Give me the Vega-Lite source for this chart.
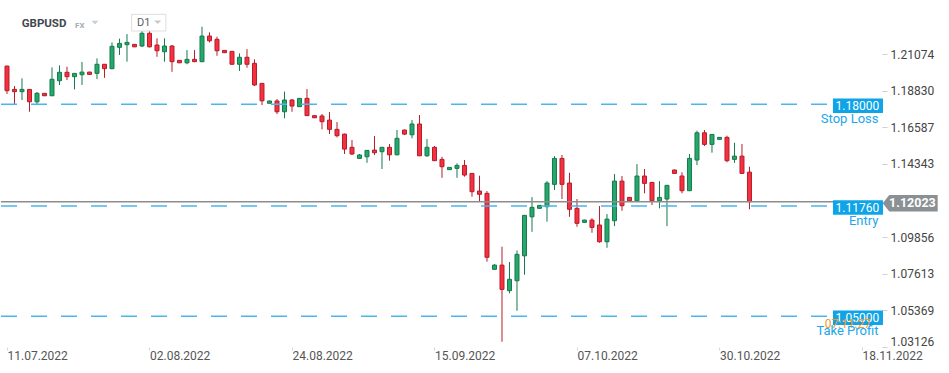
{
  "$schema": "https://vega.github.io/schema/vega-lite/v6.json",
  "width": 881,
  "height": 347,
  "padding": 0,
  "background": "#ffffff",
  "config": {"font": "Roboto", "view": {"stroke": null}},
  "datasets": {
    "candles": [
      {"i":0,"date":"2022-07-11","o":1.2034,"h":1.2036,"l":1.1863,"c":1.1883},
      {"i":1,"date":"2022-07-12","o":1.1891,"h":1.1912,"l":1.1801,"c":1.1877},
      {"i":2,"date":"2022-07-13","o":1.1877,"h":1.1959,"l":1.1826,"c":1.1891},
      {"i":3,"date":"2022-07-14","o":1.1891,"h":1.1893,"l":1.1754,"c":1.1815},
      {"i":4,"date":"2022-07-15","o":1.1815,"h":1.1875,"l":1.1801,"c":1.1867},
      {"i":5,"date":"2022-07-17","o":1.1867,"h":1.1868,"l":1.1850,"c":1.1852},
      {"i":6,"date":"2022-07-18","o":1.1852,"h":1.2026,"l":1.1850,"c":1.1953},
      {"i":7,"date":"2022-07-19","o":1.1944,"h":1.2038,"l":1.1918,"c":1.1996},
      {"i":8,"date":"2022-07-20","o":1.1996,"h":1.2030,"l":1.1948,"c":1.1969},
      {"i":9,"date":"2022-07-21","o":1.1969,"h":1.1992,"l":1.1891,"c":1.1989},
      {"i":10,"date":"2022-07-22","o":1.1981,"h":1.2059,"l":1.1918,"c":1.1997},
      {"i":11,"date":"2022-07-24","o":1.1997,"h":1.1999,"l":1.1980,"c":1.1983},
      {"i":12,"date":"2022-07-25","o":1.1989,"h":1.2081,"l":1.1954,"c":1.2045},
      {"i":13,"date":"2022-07-26","o":1.2045,"h":1.2047,"l":1.1962,"c":1.2018},
      {"i":14,"date":"2022-07-27","o":1.2018,"h":1.2179,"l":1.2015,"c":1.2155},
      {"i":15,"date":"2022-07-28","o":1.2149,"h":1.2202,"l":1.2102,"c":1.2173},
      {"i":16,"date":"2022-07-29","o":1.2165,"h":1.2230,"l":1.2061,"c":1.2179},
      {"i":17,"date":"2022-07-31","o":1.2167,"h":1.2169,"l":1.2150,"c":1.2152},
      {"i":18,"date":"2022-08-01","o":1.2157,"h":1.2293,"l":1.2150,"c":1.2235},
      {"i":19,"date":"2022-08-02","o":1.2235,"h":1.2290,"l":1.2148,"c":1.2152},
      {"i":20,"date":"2022-08-03","o":1.2163,"h":1.2204,"l":1.2091,"c":1.2128},
      {"i":21,"date":"2022-08-04","o":1.2122,"h":1.2204,"l":1.2061,"c":1.2157},
      {"i":22,"date":"2022-08-05","o":1.2157,"h":1.2163,"l":1.1999,"c":1.2061},
      {"i":23,"date":"2022-08-07","o":1.2069,"h":1.2071,"l":1.2052,"c":1.2054},
      {"i":24,"date":"2022-08-08","o":1.2054,"h":1.2132,"l":1.2045,"c":1.2075},
      {"i":25,"date":"2022-08-09","o":1.2075,"h":1.2132,"l":1.2058,"c":1.2061},
      {"i":26,"date":"2022-08-10","o":1.2061,"h":1.2275,"l":1.2058,"c":1.2218},
      {"i":27,"date":"2022-08-11","o":1.2218,"h":1.2241,"l":1.2179,"c":1.2189},
      {"i":28,"date":"2022-08-12","o":1.2198,"h":1.2214,"l":1.2097,"c":1.2128},
      {"i":29,"date":"2022-08-14","o":1.2130,"h":1.2132,"l":1.2114,"c":1.2116},
      {"i":30,"date":"2022-08-15","o":1.2124,"h":1.2126,"l":1.2043,"c":1.2045},
      {"i":31,"date":"2022-08-16","o":1.2045,"h":1.2112,"l":1.2004,"c":1.2088},
      {"i":32,"date":"2022-08-17","o":1.2088,"h":1.2138,"l":1.2024,"c":1.2045},
      {"i":33,"date":"2022-08-18","o":1.2051,"h":1.2075,"l":1.1912,"c":1.1918},
      {"i":34,"date":"2022-08-19","o":1.1928,"h":1.1930,"l":1.1795,"c":1.1821},
      {"i":35,"date":"2022-08-21","o":1.1806,"h":1.1822,"l":1.1804,"c":1.1820},
      {"i":36,"date":"2022-08-22","o":1.1820,"h":1.1832,"l":1.1740,"c":1.1754},
      {"i":37,"date":"2022-08-23","o":1.1754,"h":1.1877,"l":1.1714,"c":1.1826},
      {"i":38,"date":"2022-08-24","o":1.1826,"h":1.1832,"l":1.1754,"c":1.1789},
      {"i":39,"date":"2022-08-25","o":1.1785,"h":1.1838,"l":1.1783,"c":1.1836},
      {"i":40,"date":"2022-08-26","o":1.1836,"h":1.1893,"l":1.1728,"c":1.1730},
      {"i":41,"date":"2022-08-28","o":1.1730,"h":1.1732,"l":1.1715,"c":1.1717},
      {"i":42,"date":"2022-08-29","o":1.1728,"h":1.1740,"l":1.1646,"c":1.1693},
      {"i":43,"date":"2022-08-30","o":1.1703,"h":1.1752,"l":1.1617,"c":1.1646},
      {"i":44,"date":"2022-08-31","o":1.1646,"h":1.1691,"l":1.1597,"c":1.1607},
      {"i":45,"date":"2022-09-01","o":1.1617,"h":1.1620,"l":1.1495,"c":1.1525},
      {"i":46,"date":"2022-09-02","o":1.1536,"h":1.1581,"l":1.1489,"c":1.1495},
      {"i":47,"date":"2022-09-04","o":1.1468,"h":1.1495,"l":1.1466,"c":1.1489},
      {"i":48,"date":"2022-09-05","o":1.1478,"h":1.1520,"l":1.1441,"c":1.1517},
      {"i":49,"date":"2022-09-06","o":1.1519,"h":1.1605,"l":1.1489,"c":1.1503},
      {"i":50,"date":"2022-09-07","o":1.1509,"h":1.1538,"l":1.1403,"c":1.1536},
      {"i":51,"date":"2022-09-08","o":1.1536,"h":1.1556,"l":1.1454,"c":1.1490},
      {"i":52,"date":"2022-09-09","o":1.1490,"h":1.1642,"l":1.1488,"c":1.1591},
      {"i":53,"date":"2022-09-11","o":1.1642,"h":1.1644,"l":1.1611,"c":1.1617},
      {"i":54,"date":"2022-09-12","o":1.1613,"h":1.1703,"l":1.1591,"c":1.1679},
      {"i":55,"date":"2022-09-13","o":1.1679,"h":1.1734,"l":1.1482,"c":1.1484},
      {"i":56,"date":"2022-09-14","o":1.1484,"h":1.1587,"l":1.1478,"c":1.1536},
      {"i":57,"date":"2022-09-15","o":1.1536,"h":1.1544,"l":1.1452,"c":1.1454},
      {"i":58,"date":"2022-09-16","o":1.1462,"h":1.1478,"l":1.1349,"c":1.1417},
      {"i":59,"date":"2022-09-18","o":1.1399,"h":1.1415,"l":1.1397,"c":1.1413},
      {"i":60,"date":"2022-09-19","o":1.1407,"h":1.1438,"l":1.1349,"c":1.1425},
      {"i":61,"date":"2022-09-20","o":1.1425,"h":1.1458,"l":1.1356,"c":1.1366},
      {"i":62,"date":"2022-09-21","o":1.1376,"h":1.1378,"l":1.1233,"c":1.1264},
      {"i":63,"date":"2022-09-22","o":1.1268,"h":1.1362,"l":1.1207,"c":1.1248},
      {"i":64,"date":"2022-09-23","o":1.1254,"h":1.1268,"l":1.0835,"c":1.0862},
      {"i":65,"date":"2022-09-25","o":1.0788,"h":1.0820,"l":1.0786,"c":1.0814},
      {"i":66,"date":"2022-09-26","o":1.0814,"h":1.0927,"l":1.0344,"c":1.0665},
      {"i":67,"date":"2022-09-27","o":1.0657,"h":1.0833,"l":1.0641,"c":1.0727},
      {"i":68,"date":"2022-09-28","o":1.0718,"h":1.0904,"l":1.0534,"c":1.0880},
      {"i":69,"date":"2022-09-29","o":1.0871,"h":1.1121,"l":1.0755,"c":1.1119},
      {"i":70,"date":"2022-09-30","o":1.1110,"h":1.1231,"l":1.1018,"c":1.1168},
      {"i":71,"date":"2022-10-02","o":1.1162,"h":1.1182,"l":1.1160,"c":1.1180},
      {"i":72,"date":"2022-10-03","o":1.1172,"h":1.1329,"l":1.1080,"c":1.1317},
      {"i":73,"date":"2022-10-04","o":1.1309,"h":1.1482,"l":1.1274,"c":1.1468},
      {"i":74,"date":"2022-10-05","o":1.1468,"h":1.1489,"l":1.1219,"c":1.1309},
      {"i":75,"date":"2022-10-06","o":1.1317,"h":1.1380,"l":1.1110,"c":1.1156},
      {"i":76,"date":"2022-10-07","o":1.1162,"h":1.1219,"l":1.1049,"c":1.1070},
      {"i":77,"date":"2022-10-09","o":1.1076,"h":1.1092,"l":1.1074,"c":1.1090},
      {"i":78,"date":"2022-10-10","o":1.1090,"h":1.1101,"l":1.1012,"c":1.1045},
      {"i":79,"date":"2022-10-11","o":1.1060,"h":1.1176,"l":1.0951,"c":1.0957},
      {"i":80,"date":"2022-10-12","o":1.0957,"h":1.1127,"l":1.0920,"c":1.1096},
      {"i":81,"date":"2022-10-13","o":1.1086,"h":1.1372,"l":1.1053,"c":1.1329},
      {"i":82,"date":"2022-10-14","o":1.1329,"h":1.1360,"l":1.1147,"c":1.1178},
      {"i":83,"date":"2022-10-16","o":1.1229,"h":1.1231,"l":1.1202,"c":1.1208},
      {"i":84,"date":"2022-10-17","o":1.1208,"h":1.1433,"l":1.1206,"c":1.1360},
      {"i":85,"date":"2022-10-18","o":1.1360,"h":1.1403,"l":1.1254,"c":1.1315},
      {"i":86,"date":"2022-10-19","o":1.1321,"h":1.1323,"l":1.1182,"c":1.1208},
      {"i":87,"date":"2022-10-20","o":1.1208,"h":1.1329,"l":1.1162,"c":1.1229},
      {"i":88,"date":"2022-10-21","o":1.1219,"h":1.1305,"l":1.1053,"c":1.1303},
      {"i":89,"date":"2022-10-23","o":1.1397,"h":1.1399,"l":1.1374,"c":1.1376},
      {"i":90,"date":"2022-10-24","o":1.1360,"h":1.1383,"l":1.1254,"c":1.1270},
      {"i":91,"date":"2022-10-25","o":1.1270,"h":1.1495,"l":1.1268,"c":1.1468},
      {"i":92,"date":"2022-10-26","o":1.1458,"h":1.1638,"l":1.1427,"c":1.1625},
      {"i":93,"date":"2022-10-27","o":1.1625,"h":1.1642,"l":1.1544,"c":1.1554},
      {"i":94,"date":"2022-10-28","o":1.1554,"h":1.1617,"l":1.1503,"c":1.1615},
      {"i":95,"date":"2022-10-30","o":1.1585,"h":1.1599,"l":1.1583,"c":1.1597},
      {"i":96,"date":"2022-10-31","o":1.1597,"h":1.1607,"l":1.1444,"c":1.1454},
      {"i":97,"date":"2022-11-01","o":1.1462,"h":1.1564,"l":1.1441,"c":1.1482},
      {"i":98,"date":"2022-11-02","o":1.1482,"h":1.1556,"l":1.1374,"c":1.1376},
      {"i":99,"date":"2022-11-03","o":1.1384,"h":1.1417,"l":1.1156,"c":1.12023}
    ],
    "levels": [
      {"name":"Stop Loss","price":1.18,"label":"1.18000"},
      {"name":"Entry","price":1.1176,"label":"1.11760"},
      {"name":"Take Profit","price":1.05,"label":"1.05000"}
    ],
    "current": [{"price":1.12023,"label":"1.12023"}],
    "timer": [{"price":1.05,"t":"07:11:27"}],
    "header": [{"symbol":"GBPUSD","market":"FX","tf":"D1"}]
  },
  "layer": [
    {
      "data": {"name": "candles"},
      "mark": {"type": "rule", "strokeWidth": 1},
      "encoding": {
        "x": {"field": "i", "type": "quantitative", "title": null,
          "scale": {"domain": [-0.8, 116.67], "nice": false, "zero": false, "padding": 0},
          "axis": {"values": [0, 19, 38, 57, 76, 95, 114],
            "labelExpr": "datum.value == 0 ? '11.07.2022' : datum.value == 19 ? '02.08.2022' : datum.value == 38 ? '24.08.2022' : datum.value == 57 ? '15.09.2022' : datum.value == 76 ? '07.10.2022' : datum.value == 95 ? '30.10.2022' : '18.11.2022'",
            "labelAlign": "left", "labelFlush": false, "labelOverlap": false, "labelBound": false,
            "tickSize": 3, "tickColor": "#d6d6d6", "domain": false, "grid": false,
            "labelColor": "#555555", "labelFontSize": 12, "labelPadding": 0}},
        "y": {"field": "l", "type": "quantitative", "title": null,
          "scale": {"domain": [1.0312, 1.2439], "nice": false, "zero": false, "padding": 0},
          "axis": {"orient": "right", "values": [1.03126, 1.05369, 1.07613, 1.09856, 1.14343, 1.16587, 1.18830, 1.21074],
            "format": ".5f", "tickSize": 5, "tickColor": "#d0d0d0", "domain": false, "grid": false,
            "labelColor": "#444444", "labelFontSize": 12, "labelPadding": 3, "labelOverlap": false,
            "labelOffset": {"condition": {"test": "datum.value < 1.04", "value": -5}, "value": 0}}},
        "y2": {"field": "h"},
        "color": {"condition": {"test": "datum.c >= datum.o", "value": "#167a4b"}, "value": "#b51d2c"}
      }
    },
    {
      "data": {"name": "candles"},
      "mark": {"type": "bar", "width": 4, "strokeWidth": 1},
      "encoding": {
        "x": {"field": "i", "type": "quantitative", "title": null},
        "y": {"field": "o", "type": "quantitative", "title": null},
        "y2": {"field": "c"},
        "fill": {"condition": {"test": "datum.c >= datum.o", "value": "#24a86c"}, "value": "#f7303f"},
        "stroke": {"condition": {"test": "datum.c >= datum.o", "value": "#167a4b"}, "value": "#b51d2c"}
      }
    },
    {
      "data": {"name": "levels"},
      "mark": {"type": "rule", "strokeWidth": 1.5, "strokeDash": [16, 14], "color": "#4ab6ee"},
      "encoding": {
        "x": {"datum": -0.8, "type": "quantitative"},
        "x2": {"datum": 110.13},
        "y": {"field": "price", "type": "quantitative", "title": null}
      }
    },
    {
      "data": {"name": "current"},
      "mark": {"type": "rule", "strokeWidth": 1.3, "color": "#8d8d8d"},
      "encoding": {
        "x": {"datum": -0.8, "type": "quantitative"},
        "x2": {"datum": 116.67},
        "y": {"field": "price", "type": "quantitative", "title": null}
      }
    },
    {
      "data": {"name": "levels"},
      "mark": {"type": "rule", "strokeWidth": 14.5, "strokeCap": "butt", "color": "#0fa3e8", "yOffset": 1.5},
      "encoding": {
        "x": {"datum": 110.13, "type": "quantitative"},
        "x2": {"datum": 116.8},
        "y": {"field": "price", "type": "quantitative", "title": null}
      }
    },
    {
      "data": {"name": "levels"},
      "mark": {"type": "text", "align": "right", "baseline": "middle", "color": "#ffffff", "fontSize": 12, "dy": 1.5},
      "encoding": {
        "x": {"datum": 116.3, "type": "quantitative"},
        "y": {"field": "price", "type": "quantitative", "title": null},
        "text": {"field": "label"}
      }
    },
    {
      "data": {"name": "timer"},
      "mark": {"type": "text", "align": "right", "baseline": "middle", "color": "#f39a1e", "fontSize": 12, "dy": 8},
      "encoding": {
        "x": {"datum": 115.2, "type": "quantitative"},
        "y": {"field": "price", "type": "quantitative", "title": null},
        "text": {"field": "t"}
      }
    },
    {
      "data": {"name": "levels"},
      "mark": {"type": "text", "align": "right", "baseline": "middle", "color": "#22a6ea", "fontSize": 13, "dy": 15},
      "encoding": {
        "x": {"datum": 116.2, "type": "quantitative"},
        "y": {"field": "price", "type": "quantitative", "title": null},
        "text": {"field": "name"}
      }
    },
    {
      "data": {"name": "current"},
      "mark": {"type": "point", "filled": true, "shape": "M-1,0L-0.76,-0.304H1V0.304H-0.76Z", "size": 3025, "color": "#8a9094", "opacity": 1, "yOffset": 1.5},
      "encoding": {
        "x": {"datum": 120.43, "type": "quantitative"},
        "y": {"field": "price", "type": "quantitative", "title": null}
      }
    },
    {
      "data": {"name": "current"},
      "mark": {"type": "text", "align": "center", "baseline": "middle", "color": "#ffffff", "fontSize": 12.5, "fontWeight": "bold", "dy": 1.5},
      "encoding": {
        "x": {"datum": 120.73, "type": "quantitative"},
        "y": {"field": "price", "type": "quantitative", "title": null},
        "text": {"field": "label"}
      }
    },
    {
      "data": {"name": "header"},
      "mark": {"type": "text", "align": "left", "baseline": "middle", "color": "#3f4750", "fontSize": 11.5, "fontWeight": "bold"},
      "encoding": {
        "x": {"datum": 1.96, "type": "quantitative"},
        "y": {"datum": 1.2290, "type": "quantitative"},
        "text": {"field": "symbol"}
      }
    },
    {
      "data": {"name": "header"},
      "mark": {"type": "text", "align": "left", "baseline": "middle", "color": "#a3abb3", "fontSize": 8, "fontWeight": "bold"},
      "encoding": {
        "x": {"datum": 9.07, "type": "quantitative"},
        "y": {"datum": 1.2277, "type": "quantitative"},
        "text": {"field": "market"}
      }
    },
    {
      "data": {"name": "header"},
      "mark": {"type": "point", "filled": true, "shape": "M-1,-0.5L1,-0.5L0,0.5Z", "size": 49, "color": "#c9cdd1", "opacity": 1},
      "encoding": {
        "x": {"datum": 11.73, "type": "quantitative"},
        "y": {"datum": 1.2301, "type": "quantitative"}
      }
    },
    {
      "data": {"name": "header"},
      "mark": {"type": "point", "filled": false, "shape": "M-1,-0.487H1V0.487H-1Z", "size": 1176, "stroke": "#dedede", "strokeWidth": 1, "fill": "#ffffff", "fillOpacity": 1, "opacity": 1},
      "encoding": {
        "x": {"datum": 18.9, "type": "quantitative"},
        "y": {"datum": 1.2300, "type": "quantitative"}
      }
    },
    {
      "data": {"name": "header"},
      "mark": {"type": "text", "align": "left", "baseline": "middle", "color": "#5a5f64", "fontSize": 11},
      "encoding": {
        "x": {"datum": 17.33, "type": "quantitative"},
        "y": {"datum": 1.2300, "type": "quantitative"},
        "text": {"field": "tf"}
      }
    },
    {
      "data": {"name": "header"},
      "mark": {"type": "point", "filled": true, "shape": "M-1,-0.5L1,-0.5L0,0.5Z", "size": 49, "color": "#c4c8cc", "opacity": 1},
      "encoding": {
        "x": {"datum": 20.09, "type": "quantitative"},
        "y": {"datum": 1.2302, "type": "quantitative"}
      }
    }
  ]
}
